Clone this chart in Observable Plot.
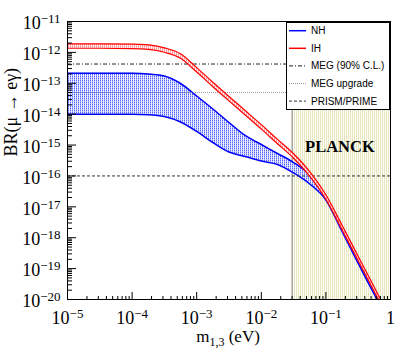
<!DOCTYPE html>
<html><head><meta charset="utf-8">
<script src="https://cdn.jsdelivr.net/npm/d3@7"></script>
<script src="https://cdn.jsdelivr.net/npm/@observablehq/plot@0.6"></script>
<style>
body{margin:0;background:#fff;}
#wrap{position:relative;width:415px;height:353px;}
#wrap svg{display:block;}
</style></head><body><div id="wrap"></div>
<script>
// lightest neutrino mass (eV)
const mass = [1e-5, 3.16e-5, 1e-4, 1.78e-4, 3.16e-4, 5.62e-4, 1e-3, 1.78e-3, 3.16e-3, 5.62e-3, 1e-2, 1.78e-2, 3.16e-2, 5.62e-2, 1e-1, 1.78e-1, 3.16e-1, 5.62e-1, 7.08e-1];
// NH band
const nhMax = [2.12e-13, 2.12e-13, 2.10e-13, 2.00e-13, 1.72e-13, 9.84e-14, 3.87e-14, 1.47e-14, 5.37e-15, 2.04e-15, 1.04e-15, 5.33e-16, 2.72e-16, 1.07e-16, 1.86e-17, 1.85e-18, 1.83e-19, 1.82e-20, 7.2e-21];
const nhMin = [1.0e-14, 1.0e-14, 9.9e-15, 9.6e-15, 8.4e-15, 5.58e-15, 2.75e-15, 1.21e-15, 5.96e-16, 4.26e-16, 3.05e-16, 2.35e-16, 1.25e-16, 5.49e-17, 1.66e-17, 1.59e-18, 1.47e-19, 1.45e-20, 5.9e-21];
// IH band
const ihMax = [1.90e-12, 1.90e-12, 1.85e-12, 1.76e-12, 1.40e-12, 9.02e-13, 3.22e-13, 1.08e-13, 3.74e-14, 1.31e-14, 4.57e-15, 1.53e-15, 5.22e-16, 1.37e-16, 2.45e-17, 2.53e-18, 2.51e-19, 2.49e-20, 9.8e-21];
const ihMin = [1.36e-12, 1.36e-12, 1.33e-12, 1.26e-12, 1.01e-12, 6.47e-13, 2.31e-13, 7.73e-14, 2.69e-14, 9.41e-15, 3.28e-15, 1.10e-15, 3.75e-16, 9.83e-17, 1.76e-17, 1.81e-18, 1.81e-19, 1.79e-20, 7.0e-21];
// experimental limits / sensitivities
const limitNames = ["MEG (90% C.L.)", "MEG upgrade", "PRISM/PRIME"];
const limitValues = [4.2e-13, 5e-14, 1e-16];
// Planck excluded region
const planckRange = [0.03, 1];
const planckLabel = ["PLANCK"];
const planckLabelMass = [0.165];
const planckLabelBR = [9e-16];
// axes
const xDomain = [1e-5, 1];
const yDomain = [1e-20, 1e-11];
const xTicks = [1e-5, 1e-4, 1e-3, 1e-2, 1e-1, 1];
const xTickLabels = ["10^−5", "10^−4", "10^−3", "10^−2", "10^−1", "1"];
const yTicks = [1e-11, 1e-12, 1e-13, 1e-14, 1e-15, 1e-16, 1e-17, 1e-18, 1e-19, 1e-20];
const yTickLabels = ["10^−11", "10^−12", "10^−13", "10^−14", "10^−15", "10^−16", "10^−17", "10^−18", "10^−19", "10^−20"];
const xTitle = "m_{1,3} (eV)";
const yTitle = "BR(μ → eγ)";
const legendLabels = ["NH", "IH", "MEG (90% C.L.)", "MEG upgrade", "PRISM/PRIME"];

const rows = mass.map((m, i) => ({m, nhLo: nhMin[i], nhHi: nhMax[i], ihLo: ihMin[i], ihHi: ihMax[i]}));
const limits = limitNames.map((name, i) => ({name, v: limitValues[i]}));
const isPow10 = v => Math.abs(Math.log10(v) - Math.round(Math.log10(v))) < 1e-9;
const xMinor = d3.scaleLog().domain(xDomain).ticks().filter(v => !isPow10(v));
const yMinor = d3.scaleLog().domain(yDomain).ticks().filter(v => !isPow10(v));

const serif = "'Liberation Serif', 'Times New Roman', serif";
const limitStyle = {
  "MEG (90% C.L.)": {stroke: "#222", dash: "4,2,1,2", w: 1},
  "MEG upgrade": {stroke: "#999", dash: "1,1", w: 1},
  "PRISM/PRIME": {stroke: "#333", dash: "3,2", w: 1}
};

const chart = Plot.plot({
  width: 415, height: 353,
  marginLeft: 67, marginRight: 25, marginTop: 21, marginBottom: 54,
  x: {type: "log", domain: xDomain},
  y: {type: "log", domain: yDomain},
  style: {fontFamily: serif, fontSize: "18px", color: "#000", background: "#fff", overflow: "visible"},
  marks: [
    Plot.rect([planckRange], {x1: d => d[0], x2: d => d[1], y1: () => yDomain[0], y2: () => yDomain[1], fill: "url(#planckHatch)"}),
    Plot.ruleX([planckRange[0]], {stroke: "#808080", strokeWidth: 1}),
    Plot.areaY(rows, {x: "m", y1: "nhLo", y2: "nhHi", fill: "url(#nhHatch)", clip: true, curve: "monotone-x"}),
    Plot.line(rows, {x: "m", y: "nhHi", stroke: "#0000ff", strokeWidth: 1.5, clip: true, curve: "monotone-x"}),
    Plot.line(rows, {x: "m", y: "nhLo", stroke: "#0000ff", strokeWidth: 1.5, clip: true, curve: "monotone-x"}),
    ...limits.map(l => Plot.ruleY([l.v], {stroke: limitStyle[l.name].stroke, strokeDasharray: limitStyle[l.name].dash, strokeWidth: limitStyle[l.name].w})),
    Plot.areaY(rows, {x: "m", y1: "ihLo", y2: "ihHi", fill: "url(#ihHatch)", clip: true, curve: "monotone-x"}),
    Plot.line(rows, {x: "m", y: "ihHi", stroke: "#ff0000", strokeWidth: 1.2, clip: true, curve: "monotone-x"}),
    Plot.line(rows, {x: "m", y: "ihLo", stroke: "#ff0000", strokeWidth: 1.2, clip: true, curve: "monotone-x"}),
    Plot.text(planckLabel, {x: (d, i) => planckLabelMass[i], y: (d, i) => planckLabelBR[i], text: d => d, fontWeight: "bold", fontSize: 16.5, fontFamily: serif, fill: "#000"}),
    Plot.frame({stroke: "#000", strokeWidth: 1}),
    // inward ticks
    Plot.axisX(xTicks, {anchor: "top", frameAnchor: "bottom", tickSize: 8, fill: "none", label: null}),
    Plot.axisX(xMinor, {anchor: "top", frameAnchor: "bottom", tickSize: 4, fill: "none", label: null}),
    Plot.axisY(yTicks, {anchor: "right", frameAnchor: "left", tickSize: 8, fill: "none", label: null}),
    Plot.axisY(yMinor, {anchor: "right", frameAnchor: "left", tickSize: 4, fill: "none", label: null}),
    // tick labels
    Plot.axisX(xTicks, {anchor: "bottom", tickSize: 0, tickPadding: 12, tickFormat: d => xTickLabels[xTicks.indexOf(d)], fontSize: 18, label: null}),
    Plot.axisY(yTicks, {anchor: "left", tickSize: 0, tickPadding: 7, dy: 2, tickFormat: d => yTickLabels[yTicks.indexOf(d)], fontSize: 18, label: null}),
    // titles
    Plot.text([xTitle], {frameAnchor: "bottom", dy: 42.5, dx: -1, text: d => d, fontSize: 17}),
    Plot.text([yTitle], {frameAnchor: "left", dx: -56, dy: -4, rotate: -90, text: d => d, fontSize: 18})
  ]
});

// hatch patterns
const defs = d3.select(chart).insert("defs", ":first-child");
function hatch(id, bg, c1, c2) {
  const p = defs.append("pattern").attr("id", id).attr("width", 2).attr("height", 2).attr("patternUnits", "userSpaceOnUse");
  p.append("rect").attr("width", 2).attr("height", 2).attr("fill", bg);
  p.append("rect").attr("width", 1).attr("height", 1).attr("fill", c1);
  p.append("rect").attr("y", 1).attr("width", 1).attr("height", 1).attr("fill", c2);
}
hatch("planckHatch", "#fdfdf6", "#e2e2b8", "#ececcc");
hatch("nhHatch", "#eceeff", "#5464ff", "#aab2ff");
hatch("ihHatch", "#fff2f2", "#ff8c8c", "#ffb8b8");

// superscript / subscript rendering
const NS = "http://www.w3.org/2000/svg";
function ts(parent, txt, attrs) {
  const t = document.createElementNS(NS, "tspan");
  t.textContent = txt;
  for (const k in attrs) t.setAttribute(k, attrs[k]);
  parent.appendChild(t);
}
chart.querySelectorAll("text").forEach(el => {
  const s = el.textContent;
  let m;
  if ((m = s.match(/^(.*)\^(.*)$/))) {
    el.textContent = "";
    ts(el, m[1], {});
    ts(el, m[2], {"font-size": 13, dy: -6});
  } else if ((m = s.match(/^(.*?)_\{(.*?)\}(.*)$/))) {
    el.textContent = "";
    ts(el, m[1], {});
    ts(el, m[2], {"font-size": 12, dy: 3.5});
    ts(el, m[3], {dy: -3.5});
  }
});

const wrap = document.getElementById("wrap");
wrap.appendChild(chart);

// legend
const legendStyle = [
  {stroke: "#0000ff", dash: null, w: 1.5},
  {stroke: "#ff0000", dash: null, w: 1.5},
  limitStyle["MEG (90% C.L.)"],
  limitStyle["MEG upgrade"],
  limitStyle["PRISM/PRIME"]
];
const leg = d3.select(wrap).append("svg")
  .attr("width", 104).attr("height", 88)
  .style("position", "absolute").style("left", "286px").style("top", "22px");
leg.append("rect").attr("x", 0.5).attr("y", 0.5).attr("width", 103).attr("height", 87)
  .attr("fill", "#fff").attr("stroke", "#000").attr("stroke-width", 1);
legendLabels.forEach((lab, i) => {
  const y = 8.7 + 17.6 * i;
  const st = legendStyle[i];
  leg.append("line").attr("x1", 3).attr("x2", 20).attr("y1", y).attr("y2", y)
    .attr("stroke", st.stroke).attr("stroke-width", st.w).attr("stroke-dasharray", st.dash);
  leg.append("text").attr("x", 25).attr("y", y).attr("dy", "0.35em")
    .attr("font-family", "'Liberation Sans', Arial, sans-serif").attr("font-size", 10).attr("fill", "#000")
    .text(lab);
});
</script>
</body></html>
